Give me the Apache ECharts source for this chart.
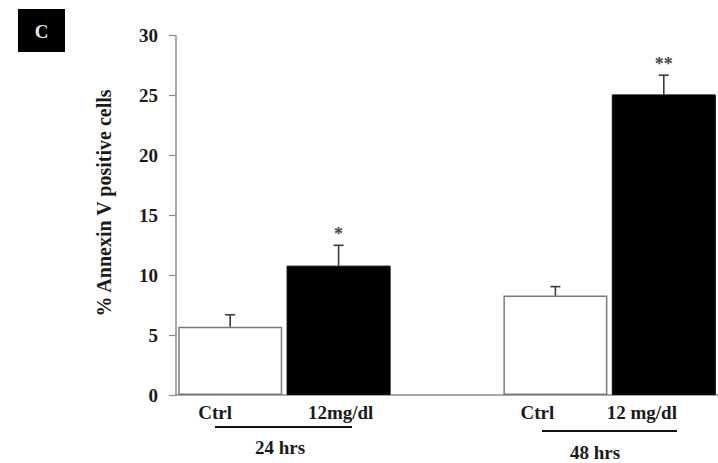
<!DOCTYPE html>
<html>
<head>
<meta charset="utf-8">
<script src="https://cdn.jsdelivr.net/npm/echarts@6/dist/echarts.min.js"></script>
<style>
html,body{margin:0;padding:0;background:#fff;}
#chart{width:718px;height:463px;}
</style>
</head>
<body>
<div id="chart"></div>
<script>
// ---- data ----
const categories = ["Ctrl", "12mg/dl", "", "Ctrl", "12 mg/dl"];
const values = [5.7, 10.8, null, 8.3, 25.1];
const errors = [1.0, 1.7, null, 0.75, 1.6];
const significance = ["", "*", "", "", "**"];
const isTreated = [false, true, false, false, true];
const groupLabels = ["24 hrs", "48 hrs"];
const yTicks = { min: 0, max: 30, interval: 5 };
const panelLetter = "C";
const yAxisTitle = "% Annexin V positive cells";

// ---- style ----
const FONT = '"Liberation Serif", "Times New Roman", serif';
const AXIS_GRAY = '#8c8c8c';
const TEXT = '#1a1a1a';
const labelShift = [15, -2, 0, 18, 22];

const chart = echarts.init(document.getElementById('chart'), null, { renderer: 'svg' });

const barData = values.map((v, i) => v === null ? '-' : ({
  value: v,
  itemStyle: isTreated[i]
    ? { color: '#000', borderColor: '#000', borderWidth: 1 }
    : { color: '#fff', borderColor: '#7a7a7a', borderWidth: 1.5 }
}));

const errData = values.map((v, i) => v === null ? null : [i, v, errors[i], significance[i]]).filter(d => d);

const option = {
  animation: false,
  backgroundColor: '#fff',
  grid: { left: 176, top: 35.7, width: 560, height: 359.3, containLabel: false },
  xAxis: {
    type: 'category',
    data: categories.map((c, i) => ({
      value: c,
      textStyle: { padding: labelShift[i] >= 0 ? [0, 2 * labelShift[i], 0, 0] : [0, 0, 0, -2 * labelShift[i]] }
    })),
    axisLine: { show: true, lineStyle: { color: AXIS_GRAY, width: 1.5 } },
    axisTick: { show: false },
    axisLabel: { interval: 0, margin: 8, fontFamily: FONT, fontWeight: 'bold', fontSize: 19, color: TEXT },
    splitLine: { show: false }
  },
  yAxis: {
    type: 'value',
    min: yTicks.min, max: yTicks.max, interval: yTicks.interval,
    axisLine: { show: true, lineStyle: { color: AXIS_GRAY, width: 1.5 } },
    axisTick: { show: true, length: 7, lineStyle: { color: AXIS_GRAY, width: 1.2 } },
    axisLabel: { margin: 18, fontFamily: FONT, fontWeight: 'bold', fontSize: 19, color: TEXT },
    splitLine: { show: false }
  },
  series: [
    {
      type: 'bar',
      data: barData,
      barWidth: 104,
      z: 2
    },
    {
      type: 'custom',
      data: errData,
      z: 3,
      renderItem: function (params, api) {
        const idx = api.value(0);
        const v = api.value(1);
        const e = api.value(2);
        const sig = significance[idx];
        const p0 = api.coord([idx, v]);
        const p1 = api.coord([idx, v + e]);
        const st = { stroke: '#3a3a3a', lineWidth: 1.6 };
        const children = [
          { type: 'line', shape: { x1: p0[0], y1: p0[1], x2: p1[0], y2: p1[1] }, style: st },
          { type: 'line', shape: { x1: p1[0] - 5, y1: p1[1], x2: p1[0] + 5, y2: p1[1] }, style: st }
        ];
        if (sig) {
          children.push({
            type: 'text',
            style: {
              text: sig, x: p1[0], y: p1[1] - 2, align: 'center', verticalAlign: 'bottom',
              font: 'bold 18px ' + FONT, fill: '#444'
            }
          });
        }
        return { type: 'group', children: children };
      }
    }
  ],
  graphic: [
    { type: 'rect', shape: { x: 18, y: 9, width: 47, height: 43 }, style: { fill: '#000' } },
    { type: 'text', style: { text: panelLetter, x: 41.5, y: 31, align: 'center', verticalAlign: 'middle', font: 'bold 19px ' + FONT, fill: '#e8e8e8' } },
    { type: 'text', x: 104, y: 203, rotation: Math.PI / 2,
      style: { text: yAxisTitle, x: 0, y: 0, align: 'center', verticalAlign: 'middle', font: 'bold 20px ' + FONT, fill: TEXT } },
    { type: 'line', shape: { x1: 215, y1: 427, x2: 352, y2: 427 }, style: { stroke: '#111', lineWidth: 1.8 } },
    { type: 'line', shape: { x1: 542, y1: 431, x2: 677, y2: 431 }, style: { stroke: '#111', lineWidth: 1.8 } },
    { type: 'text', style: { text: groupLabels[0], x: 280, y: 447, align: 'center', verticalAlign: 'middle', font: 'bold 19px ' + FONT, fill: TEXT } },
    { type: 'text', style: { text: groupLabels[1], x: 595, y: 452, align: 'center', verticalAlign: 'middle', font: 'bold 19px ' + FONT, fill: TEXT } }
  ]
};

chart.setOption(option);
</script>
</body>
</html>
